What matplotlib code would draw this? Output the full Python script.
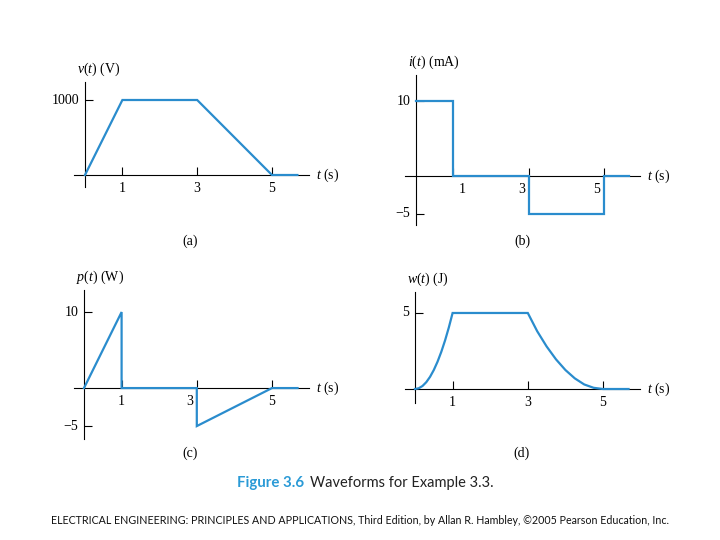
import numpy as np
import matplotlib
matplotlib.use('Agg')
import matplotlib.pyplot as plt

plt.rcParams['font.family'] = 'Liberation Serif'
plt.rcParams['mathtext.fontset'] = 'custom'
plt.rcParams['mathtext.rm'] = 'Liberation Serif'
plt.rcParams['mathtext.it'] = 'Liberation Serif:italic'

LINE = '#2a8ccd'

# waveform data
t_v = [0, 1, 3, 5, 5.68]
v = [0, 1000, 1000, 0, 0]

t_i = [0, 1, 1, 3, 3, 5, 5, 5.68]
i_ma = [10, 10, 0, 0, -5, -5, 0, 0]

t_p = [0, 1, 1, 3, 3, 5, 5.68]
p = [0, 10, 0, 0, -5, 0, 0]

t_w = [0, 0.1, 0.2, 0.3, 0.4, 0.5, 0.6, 0.7, 0.8, 0.9, 1,
       3, 3.25, 3.5, 3.75, 4, 4.25, 4.5, 4.75, 5, 5.68]
w = [0, 0.05, 0.2, 0.45, 0.8, 1.25, 1.8, 2.45, 3.2, 4.05, 5,
     5, 3.8, 2.8, 1.95, 1.25, 0.7, 0.3, 0.08, 0, 0]

x_ticks = [1, 3, 5]

fig = plt.figure(figsize=(7.2, 5.4), dpi=100)


def panel(box, xlim, ylim, t, y, yticks, ylabel, xoff=(0, 0, 0)):
    # box is (left, top, right, bottom) in pixels of the 720x540 figure
    l, tp, r, b = box
    ax = fig.add_axes([l / 720, 1 - b / 540, (r - l) / 720, (b - tp) / 540])
    ax.set_xlim(*xlim)
    ax.set_ylim(*ylim)
    ax.patch.set_alpha(0)
    for s in ['top', 'right']:
        ax.spines[s].set_visible(False)
    ax.spines['left'].set_position(('data', 0))
    ax.spines['bottom'].set_position(('data', 0))
    for s in ['left', 'bottom']:
        ax.spines[s].set_linewidth(0.8)
    ax.plot(t, y, color=LINE, lw=1.6, solid_joinstyle='miter', zorder=3, clip_on=False)
    ax.set_xticks(x_ticks)
    ax.set_yticks(yticks)
    ax.tick_params(direction='in', length=6, width=0.8, labelbottom=False, labelleft=False)
    for k, xt in enumerate(x_ticks):
        ax.annotate(str(xt), (xt, 0), xytext=(xoff[k], -10), textcoords='offset points',
                    ha='center', va='center', fontsize=10)
    for yt in yticks:
        ax.annotate(str(yt).replace('-', '\u2212'), (0, yt), xytext=(-4, 0),
                    textcoords='offset points', ha='right', va='center', fontsize=10)
    ax.annotate(r'$t$ (s)', (1, 0), xycoords=('axes fraction', 'data'), xytext=(5, 0),
                textcoords='offset points', ha='left', va='center', fontsize=10)
    ax.annotate(ylabel, (0, 1), xycoords=('data', 'axes fraction'), xytext=(-6, 9),
                textcoords='offset points', ha='left', va='center', fontsize=10)
    return ax


panel((74, 82, 309, 187), (-0.294, 5.99), (-160, 1240), t_v, v, [1000],
      r'$v(t)$ (V)')
panel((405, 75, 640, 225), (-0.293, 5.973), (-6.53, 13.47), t_i, i_ma, [10, -5],
      r'$i(t)$ (mA)', xoff=(6, -5, -5))
panel((74, 290, 309, 439), (-0.266, 5.984), (-6.7, 12.9), t_p, p, [10, -5],
      r'$p(t)$ (W)', xoff=(0, -5, 0))
panel((405, 292, 640, 403), (-0.266, 5.984), (-0.92, 6.38), t_w, w, [5],
      r'$w(t)$ (J)')

# sub-figure letters
for x, y, s in [(190, 241, '(a)'), (522, 241, '(b)'), (190, 453, '(c)'), (522, 453, '(d)')]:
    fig.text(x / 720, 1 - y / 540, s, ha='center', va='center', fontsize=10)

fig.text(237 / 720, 1 - 483 / 540, 'Figure 3.6', color='#2a9ad6', fontweight='bold',
         family='Lato', fontsize=10.8, ha='left', va='center')
fig.text(310 / 720, 1 - 483 / 540, 'Waveforms for Example 3.3.', color='#222222',
         family='Lato', fontsize=10.5, ha='left', va='center')
fig.text(360 / 720, 1 - 521 / 540,
         'ELECTRICAL ENGINEERING: PRINCIPLES AND APPLICATIONS, Third Edition, by Allan R. Hambley, \u00a92005 Pearson Education, Inc.',
         family='Lato', fontsize=7.7, ha='center', va='center', color='#111111')

fig.savefig('out.png', dpi=100)
